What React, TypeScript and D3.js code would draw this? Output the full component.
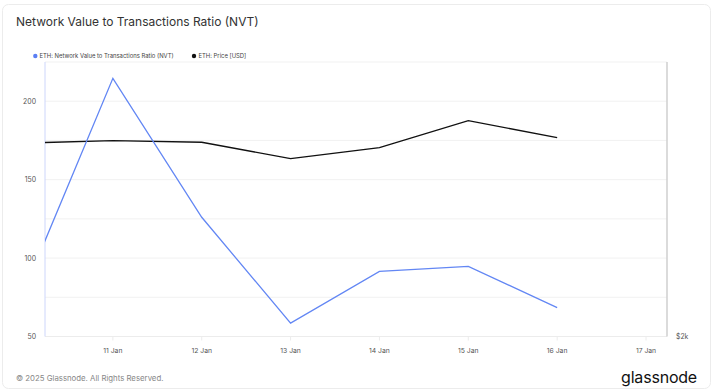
import React from 'react'
import * as d3 from 'd3'

// daily points (UTC midnight)
const days = ['2025-01-10', '2025-01-11', '2025-01-12', '2025-01-13', '2025-01-14', '2025-01-15', '2025-01-16']
const nvtValues = [79, 214.6, 126, 58.5, 91.5, 94.7, 68.4]
const priceValues = [3409, 3427, 3415, 3296, 3376, 3573, 3449]

const tickDays = ['2025-01-11', '2025-01-12', '2025-01-13', '2025-01-14', '2025-01-15', '2025-01-16', '2025-01-17']
const nvtTicks = [50, 100, 150, 200]
const nvtGrid = [50, 75, 100, 125, 150, 175, 200, 225]

const W = 712,
	H = 392
const left = 45,
	right = 667,
	top = 62,
	bottom = 336.5

const parse = d3.utcParse('%Y-%m-%d')
const fmt = d3.utcFormat('%-d %b')

const App = () => {
	const start = new Date(Date.UTC(2025, 0, 10, 5, 40))
	const end = new Date(Date.UTC(2025, 0, 17, 5, 40))
	const x = d3.scaleUtc().domain([start, end]).range([left, right])
	const y = d3.scaleLinear().domain([50, 225]).range([bottom, top])
	const yPrice = d3.scaleLinear().domain([2000, 4000]).range([bottom, top])

	const nvt = days.map((d, i) => ({ date: parse(d)!, v: nvtValues[i] }))
	const price = days.map((d, i) => ({ date: parse(d)!, v: priceValues[i] }))

	const nvtLine = d3
		.line<{ date: Date; v: number }>()
		.x((d) => x(d.date))
		.y((d) => y(d.v))
	const priceLine = d3
		.line<{ date: Date; v: number }>()
		.x((d) => x(d.date))
		.y((d) => yPrice(d.v))

	const font = 'Inter, "Noto Sans", sans-serif'

	return (
		<svg width={W} height={H} style={{ position: 'absolute', left: 0, top: 0, background: '#fff' }}>
			<rect x={2.5} y={4.5} width={708} height={384} rx={6} fill="#fff" stroke="#ececec" />
			<text x={16} y={26} fontFamily={font} fontSize={12} fill="#333">
				Network Value to Transactions Ratio (NVT)
			</text>

			{/* legend */}
			<circle cx={35.3} cy={56} r={2.2} fill="#5b7ff3" />
			<text x={39.5} y={58} fontFamily={font} fontSize={5.9} fill="#444">
				ETH: Network Value to Transactions Ratio (NVT)
			</text>
			<circle cx={194} cy={56} r={2.2} fill="#111" />
			<text x={198.5} y={58} fontFamily={font} fontSize={5.9} fill="#444">
				ETH: Price [USD]
			</text>

			<defs>
				<clipPath id="plot">
					<rect x={left} y={top - 20} width={right - left} height={bottom - top + 20} />
				</clipPath>
			</defs>

			{/* grid */}
			{nvtGrid.map((g) => (
				<line key={g} x1={left} x2={right} y1={y(g)} y2={y(g)} stroke="#f1f1f1" />
			))}
			<line x1={left} x2={right} y1={bottom} y2={bottom} stroke="#ececec" />

			{/* x ticks */}
			{tickDays.map((d) => {
				const t = parse(d)!
				return (
					<g key={d}>
						<line x1={x(t)} x2={x(t)} y1={bottom} y2={bottom + 4} stroke="#ececec" />
						<text x={x(t)} y={352.5} textAnchor="middle" fontFamily={font} fontSize={6.8} fill="#555">
							{fmt(t)}
						</text>
					</g>
				)
			})}

			{/* left axis */}
			<line x1={left} x2={left} y1={top} y2={bottom} stroke="#cdd6fb" />
			{nvtTicks.map((t) => (
				<text key={t} x={36} y={y(t) + 2.5} textAnchor="end" fontFamily={font} fontSize={6.9} fill="#555">
					{t}
				</text>
			))}

			{/* right axis */}
			<line x1={right} x2={right} y1={top} y2={bottom} stroke="#cfcfcf" strokeWidth={1.5} />
			<text x={676} y={bottom + 2.5} fontFamily={font} fontSize={6.9} fill="#555">
				$2k
			</text>

			<g clipPath="url(#plot)">
				<path d={priceLine(price)!} fill="none" stroke="#111" strokeWidth={1.4} />
				<path d={nvtLine(nvt)!} fill="none" stroke="#6387f4" strokeWidth={1.3} />
			</g>

			{/* footer */}
			<text x={16} y={381} fontFamily={font} fontSize={7.8} fill="#888">
				© 2025 Glassnode. All Rights Reserved.
			</text>
			<text x={697} y={383} textAnchor="end" fontFamily={font} fontSize={16} fill="#111" letterSpacing={-0.2}>
				glassnode
			</text>
		</svg>
	)
}

export default App
